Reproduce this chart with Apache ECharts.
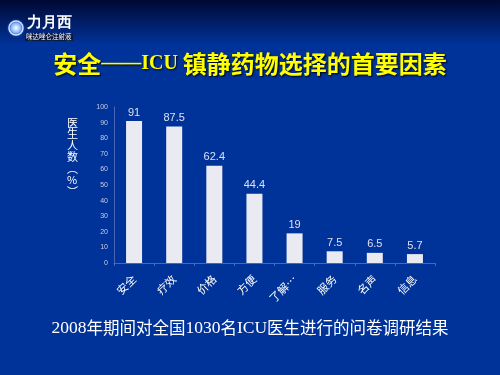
<!DOCTYPE html>
<html><head><meta charset="utf-8">
<script src="https://cdn.jsdelivr.net/npm/echarts@6/dist/echarts.min.js"></script>
<style>html,body{margin:0;padding:0;background:#00339a}#c{width:500px;height:375px}</style>
</head><body><div id="c"></div>
<script>
const categories = ['安全','疗效','价格','方便','了解…','服务','名声','信息'];
const values = [91, 87.5, 62.4, 44.4, 19, 7.5, 6.5, 5.7];
const yTicks = [0,10,20,30,40,50,60,70,80,90,100];
const yName = '医\n生\n人\n数\n︵\n%\n︶';

const chart = echarts.init(document.getElementById('c'));
chart.setOption({
  animation: false,
  backgroundColor: new echarts.graphic.LinearGradient(0,0,0,1,[
    {offset:0,color:'#000833'},{offset:0.12,color:'#00339a'},{offset:1,color:'#00339a'}]),
  grid: {left:114, right:65, top:107, bottom:112},
  xAxis: {
    type:'category', data:categories,
    axisLine:{lineStyle:{color:'#4a66b8',width:1}},
    axisTick:{show:true,length:3,lineStyle:{color:'#4a66b8'}},
    axisLabel:{color:'#ffffff',fontSize:11,rotate:45,margin:14,fontFamily:'Noto Sans CJK SC'}
  },
  yAxis: {
    type:'value', min:0, max:100, interval:10,
    axisLine:{show:true,lineStyle:{color:'#4a66b8'}},
    axisTick:{show:false},
    splitLine:{show:false},
    axisLabel:{color:'#c8cce0',fontSize:7,margin:6,fontFamily:'Liberation Sans',
      formatter:v=>yTicks.includes(v)?String(v):''}
  },
  series:[{
    type:'bar', data:values, barWidth:16,
    itemStyle:{color:'#eaeaf2'},
    label:{show:true,position:'top',distance:3,color:'#dde0ee',fontSize:11,fontFamily:'Liberation Sans'}
  }],
  graphic:[
    {type:'text',left:67,top:117,style:{text:yName,fill:'#ffffff',fontSize:11,lineHeight:11.5,
      fontFamily:'Noto Sans CJK SC',align:'center'}},
    {type:'text',left:'center',top:52,style:{
      rich:{
        a:{fontSize:24,fontWeight:'bold',fill:'#ffff00',fontFamily:'Noto Sans CJK SC',textShadowColor:'#000',textShadowBlur:2,textShadowOffsetX:1,textShadowOffsetY:1},
        b:{fontSize:20,fontWeight:'bold',fill:'#ffff00',fontFamily:'Liberation Serif',textShadowColor:'#000',textShadowBlur:2,textShadowOffsetX:1,textShadowOffsetY:1}
      },
      text:'{a|安全}{b|——ICU }{a|镇静药物选择的首要因素}'
    }},
    {type:'text',left:'center',top:319,style:{
      rich:{
        s:{fontSize:17.5,fill:'#ffffff',fontFamily:'Liberation Serif'},
        c:{fontSize:16.5,fill:'#ffffff',fontFamily:'Noto Sans CJK SC'}
      },
      text:'{s|2008}{c|年期间对全国}{s|1030}{c|名}{s|ICU}{c|医生进行的问卷调研结果}'
    }},
    {type:'circle',shape:{cx:16,cy:28,r:10},style:{fill:new echarts.graphic.RadialGradient(0.5,0.5,0.5,[
      {offset:0,color:'#ffffff'},{offset:0.5,color:'#7fb0ff'},{offset:1,color:'rgba(0,40,140,0)'}])}},
    {type:'circle',shape:{cx:16,cy:28,r:7},style:{fill:'none',stroke:'#cfe0ff',lineWidth:1.5}},
    {type:'text',left:27,top:16,style:{text:'力月西',fill:'#ffffff',fontSize:15,fontWeight:'bold',fontFamily:'Liberation Serif'}},
    {type:'rect',shape:{x:25,y:33,width:48,height:8},style:{fill:'#0a1a40'}},
    {type:'text',left:26,top:33,style:{text:'咪达唑仑注射液',fill:'#ffffff',fontSize:6.5,fontFamily:'Noto Sans CJK SC'}}
  ]
});
</script></body></html>
